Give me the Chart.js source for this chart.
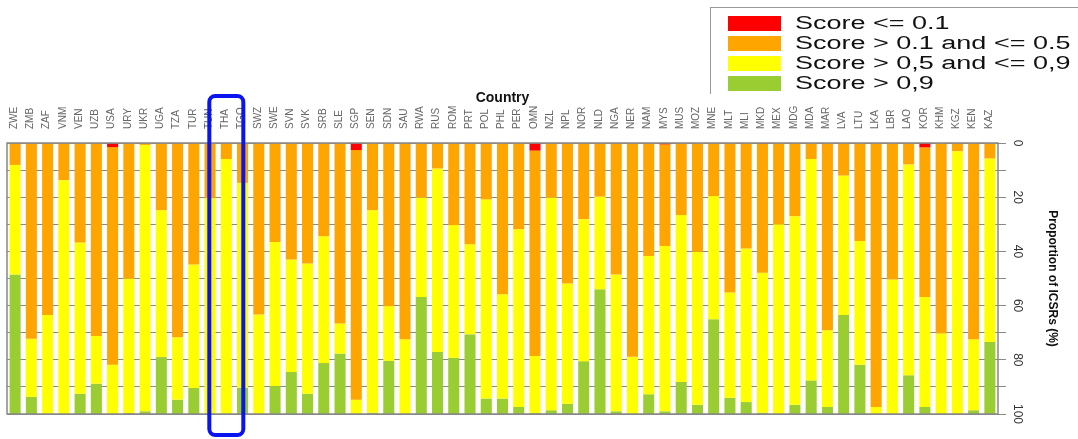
<!DOCTYPE html>
<html>
<head>
<meta charset="utf-8">
<script src="https://cdn.jsdelivr.net/npm/chart.js@4"></script>
<style>
  html, body { margin: 0; padding: 0; background: #fff; }
  #wrap { position: relative; width: 1078px; height: 439px; }
  #legend {
    position: absolute; left: 710px; top: 7px; width: 368px; height: 87px;
    border-top: 1px solid #999; border-left: 1px solid #999; box-sizing: border-box;
    font-family: "Liberation Sans", Arial, sans-serif; font-size: 18px; color: #111;
  }
  .row { position: absolute; left: 17px; height: 15px; }
  .sw { position: absolute; left: 0; top: 0; width: 53px; height: 15px; }
  .lbl { position: absolute; left: 67px; top: -3px; line-height: 20px; white-space: nowrap;
         transform: scaleX(1.5); transform-origin: left center; }
</style>
</head>
<body>
<div id="wrap">
  <canvas id="chart" width="1078" height="439"></canvas>
  <div id="legend"></div>
</div>
<script>
const countries = ['ZWE','ZMB','ZAF','VNM','VEN','UZB','USA','URY','UKR','UGA','TZA','TUR','TUN','THA','TGO',
  'SWZ','SWE','SVN','SVK','SRB','SLE','SGP','SEN','SDN','SAU','RWA','RUS','ROM','PRT','POL','PHL','PER',
  'OMN','NZL','NPL','NOR','NLD','NGA','NER','NAM','MYS','MUS','MOZ','MNE','MLT','MLI','MKD','MEX','MDG',
  'MDA','MAR','LVA','LTU','LKA','LBR','LAO','KOR','KHM','KGZ','KEN','KAZ'];

// percentage of ICSRs per score band
const scoreLow = [0,0,0,0,0,0,1.5,0,0,0,0,0,0,0,0,
  0,0,0,0,0,0,2.6,0,0,0,0,0,0,0,0,0,0,
  2.8,0,0,0,0,0,0,0,0.5,0,0,0,0,0,0.3,0,0,
  0,0,0,0,0,0,0,1.6,0,0,0,0];
const scoreMidLow = [8.1,72.2,63.5,13.7,36.7,71.2,80.3,50,0.7,24.8,71.7,44.8,20.4,5.9,14.7,
  63.3,36.5,43,44.5,34.4,66.6,92.1,24.8,60.2,72.4,20.1,9.4,30.3,37.4,20.8,55.8,31.8,
  75.8,20.1,51.8,28.1,19.8,48.5,78.9,41.7,37.5,26.6,40.1,19.6,55.2,38.9,47.6,30,27,
  5.9,69.1,12,36.2,97.4,50.4,7.9,55.2,70.3,3,72.4,5.7];
const scoreMidHigh = [40.4,21.5,36.5,86.3,55.8,17.6,18.2,49.6,98.3,54.2,23,45.6,79.6,94.1,75.6,
  36.7,53.2,41.5,48,46.8,11.1,5.3,74.7,20.2,27.6,36.7,67.7,48.9,33.2,73.5,38.5,65.6,
  21,78.5,44.4,52.4,34.2,50.5,21.1,51,61,61.6,56.5,45.4,38.8,56.7,51.6,70,69.6,
  81.7,28.3,51.5,45.6,2.6,49.6,77.8,40.6,29.7,97,26.2,67.7];
const scoreHigh = [51.5,6.3,0,0,7.5,11.2,0,0.4,1,21,5.3,9.6,0,0,9.7,
  0,10.3,15.5,7.5,18.8,22.3,0,0.5,19.6,0,43.2,22.9,20.8,29.4,5.7,5.7,2.6,
  0.4,1.4,3.8,19.5,46,1,0,7.3,1,11.8,3.4,35,6,4.4,0.5,0,3.4,
  12.4,2.6,36.5,18.2,0,0,14.3,2.6,0,0,1.4,26.6];

const bandLabels = ['Score <= 0.1', 'Score > 0.1 and <= 0.5', 'Score > 0,5 and <= 0,9', 'Score > 0,9'];
const bandColors = ['#ff0000', '#ffa500', '#ffff00', '#9acd32'];
const highlighted = 'THA';

// html legend
const legendEl = document.getElementById('legend');
bandLabels.forEach((txt, i) => {
    const row = document.createElement('div');
    row.className = 'row';
    row.style.top = (8 + i * 20) + 'px';
    row.innerHTML = '<div class="sw" style="background:' + bandColors[i] + '"></div><span class="lbl"></span>';
    row.querySelector('.lbl').textContent = txt;
    legendEl.appendChild(row);
});

const frameAndBox = {
    id: 'frameAndBox',
    afterDatasetsDraw(chart) {
        const { ctx, chartArea: a } = chart;
        ctx.save();
        ctx.strokeStyle = '#888';
        ctx.lineWidth = 1.5;
        ctx.strokeRect(a.left, a.top, a.right - a.left, a.bottom - a.top);
        ctx.restore();
    },
    afterDraw(chart) {
        const { ctx, chartArea: a } = chart;
        const cx = chart.scales.x.getPixelForValue(countries.indexOf(highlighted));
        const x0 = cx - 17, x1 = cx + 17, y0 = a.top - 47, y1 = a.bottom + 21, r = 6;
        ctx.save();
        ctx.strokeStyle = '#0a14f0';
        ctx.lineWidth = 4;
        ctx.beginPath();
        ctx.moveTo(x0 + r, y0);
        ctx.arcTo(x1, y0, x1, y1, r);
        ctx.arcTo(x1, y1, x0, y1, r);
        ctx.arcTo(x0, y1, x0, y0, r);
        ctx.arcTo(x0, y0, x1, y0, r);
        ctx.closePath();
        ctx.stroke();
        ctx.restore();
    }
};

const series = [scoreLow, scoreMidLow, scoreMidHigh, scoreHigh];

new Chart(document.getElementById('chart'), {
    type: 'bar',
    data: {
        labels: countries,
        datasets: series.map((d, i) => ({
            label: bandLabels[i],
            data: d,
            backgroundColor: bandColors[i],
            borderWidth: 0,
            barPercentage: 0.68,
            categoryPercentage: 1
        }))
    },
    options: {
        responsive: false,
        animation: false,
        layout: { padding: { left: 7, right: 0, top: 86, bottom: 25 } },
        scales: {
            x: {
                position: 'top',
                stacked: true,
                grid: { display: false },
                border: { display: false },
                ticks: {
                    color: '#666',
                    font: { family: 'Liberation Sans', size: 10 },
                    minRotation: 90,
                    maxRotation: 90,
                    autoSkip: false,
                    padding: 6,
                    labelOffset: 11
                },
                title: {
                    display: true,
                    text: 'Country',
                    color: '#111',
                    font: { family: 'Liberation Sans', size: 14, weight: 'bold' },
                    padding: { top: 4, bottom: 0 }
                },
                afterFit(scale) {
                    scale.height = 57;
                    scale.paddingLeft = 0;
                    scale.paddingRight = 0;
                }
            },
            y: {
                position: 'right',
                stacked: true,
                reverse: true,
                min: 0,
                max: 100,
                grid: { color: '#888', lineWidth: 1, tickLength: 8 },
                border: { display: false },
                ticks: {
                    stepSize: 10,
                    color: '#333',
                    font: { family: 'Liberation Sans', size: 12 },
                    minRotation: -90,
                    maxRotation: -90,
                    crossAlign: 'center',
                    padding: 1,
                    callback: v => (v % 20 === 0 ? v : '')
                },
                title: {
                    display: true,
                    text: 'Proportion of ICSRs (%)',
                    color: '#111',
                    font: { family: 'Liberation Sans', size: 12, weight: 'bold' },
                    padding: { top: 18, bottom: 0 }
                },
                afterFit(scale) {
                    scale.width = 80;
                    scale.paddingTop = 0;
                    scale.paddingBottom = 0;
                }
            }
        },
        plugins: {
            legend: { display: false },
            tooltip: { enabled: false }
        }
    },
    plugins: [frameAndBox]
});
</script>
</body>
</html>
